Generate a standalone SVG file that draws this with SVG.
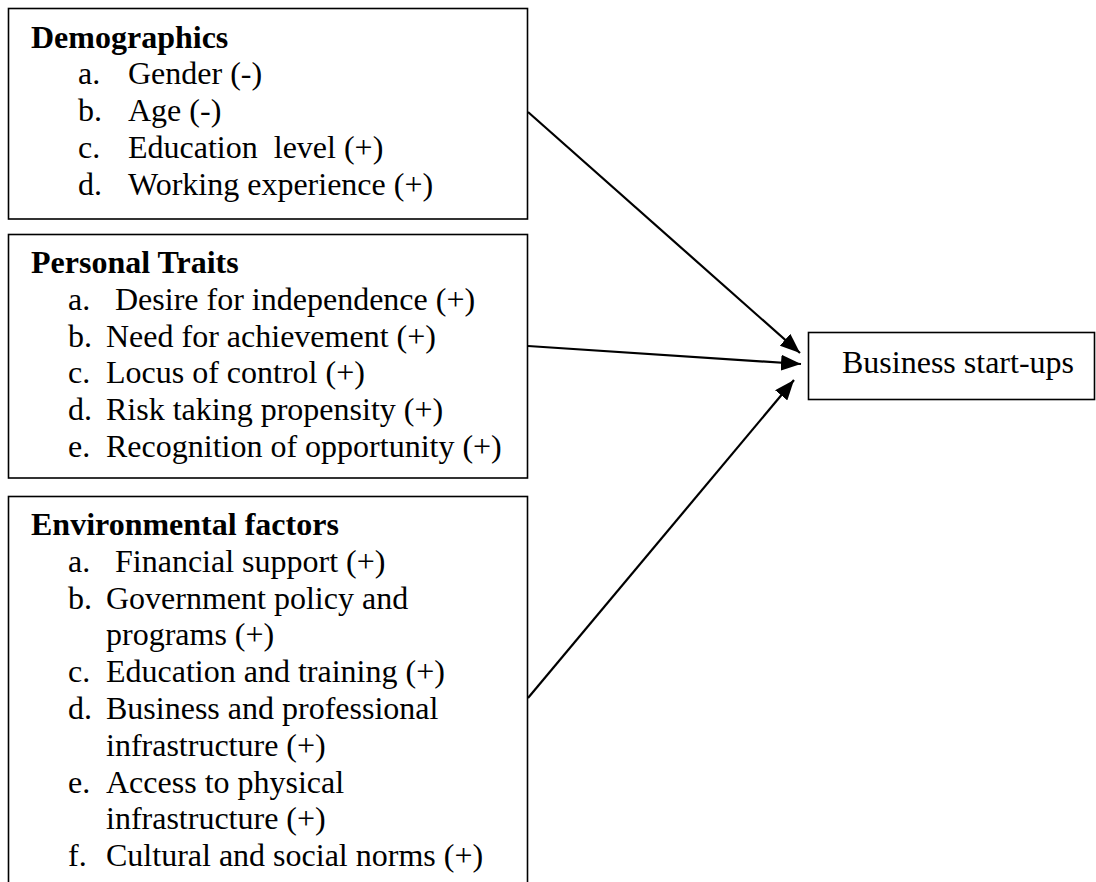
<svg xmlns="http://www.w3.org/2000/svg" width="1096" height="882" viewBox="0 0 1096 882">
<style>
  text { font-family: "Liberation Serif", "Times New Roman", serif; font-size: 32px; fill: #000; }
  .title { font-weight: bold; }
  .box { fill: #fff; stroke: #000; stroke-width: 1.6; }
  .conn { stroke: #000; stroke-width: 2.2; fill: none; }
</style>
<defs>
  <marker id="arrow" markerUnits="userSpaceOnUse" markerWidth="20" markerHeight="16" viewBox="0 0 20 16" refX="20" refY="8" orient="auto">
    <path d="M0,0 L20,8 L0,16 Z" fill="#000"/>
  </marker>
</defs>
<rect width="1096" height="882" fill="#fff"/>

<g id="demographics">
  <rect class="box" x="8.5" y="8.5" width="519" height="210.5"/>
  <text class="title" x="31" y="48">Demographics</text>
  <text x="78" y="84">a.</text><text x="128" y="84">Gender (-)</text>
  <text x="78" y="121">b.</text><text x="128" y="121">Age (-)</text>
  <text x="78" y="158">c.</text><text x="128" y="158" xml:space="preserve">Education  level (+)</text>
  <text x="78" y="195">d.</text><text x="128" y="195">Working experience (+)</text>
</g>

<g id="personal-traits">
  <rect class="box" x="8.5" y="234.5" width="519" height="243.5"/>
  <text class="title" x="31" y="273">Personal Traits</text>
  <text x="68" y="309.8">a.</text><text x="115" y="309.8">Desire for independence (+)</text>
  <text x="68" y="346.6">b.</text><text x="106" y="346.6">Need for achievement (+)</text>
  <text x="68" y="383.4">c.</text><text x="106" y="383.4">Locus of control (+)</text>
  <text x="68" y="420.2">d.</text><text x="106" y="420.2">Risk taking propensity (+)</text>
  <text x="68" y="456.5">e.</text><text x="106" y="456.5">Recognition of opportunity (+)</text>
</g>

<g id="environmental-factors">
  <rect class="box" x="8.5" y="496.5" width="519" height="420"/>
  <text class="title" x="31" y="535">Environmental factors</text>
  <text x="68" y="571.8">a.</text><text x="115" y="571.8">Financial support (+)</text>
  <text x="68" y="608.6">b.</text><text x="106" y="608.6">Government policy and</text>
  <text x="106" y="645.4">programs (+)</text>
  <text x="68" y="682.2">c.</text><text x="106" y="682.2">Education and training (+)</text>
  <text x="68" y="719">d.</text><text x="106" y="719">Business and professional</text>
  <text x="106" y="755.8">infrastructure (+)</text>
  <text x="68" y="792.6">e.</text><text x="106" y="792.6">Access to physical</text>
  <text x="106" y="829.4">infrastructure (+)</text>
  <text x="68" y="866">f.</text><text x="106" y="866">Cultural and social norms (+)</text>
</g>

<g id="business-start-ups">
  <rect class="box" x="808.5" y="332.5" width="286" height="67"/>
  <text x="958" y="373" text-anchor="middle">Business start-ups</text>
</g>

<g id="connectors">
  <line class="conn" x1="528" y1="112" x2="800" y2="353" marker-end="url(#arrow)"/>
  <line class="conn" x1="528" y1="346" x2="801" y2="364" marker-end="url(#arrow)"/>
  <line class="conn" x1="528" y1="698" x2="794" y2="380" marker-end="url(#arrow)"/>
</g>
</svg>
